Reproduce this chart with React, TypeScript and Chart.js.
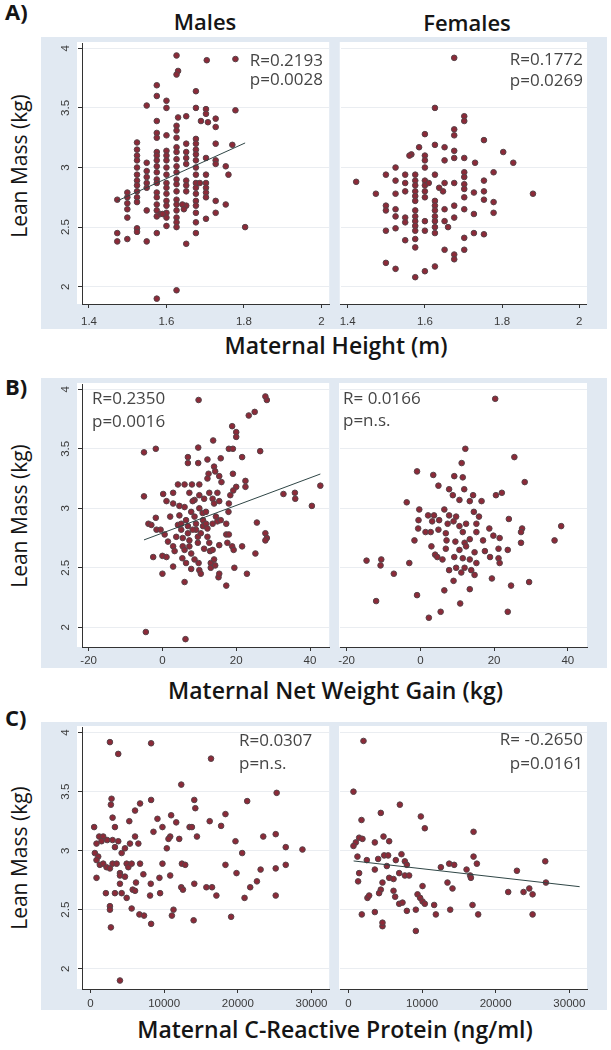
import React, { useEffect, useRef } from "react";
import { Chart, registerables } from "chart.js";

Chart.register(...registerables);

type Pt = [number, number];

// ---------- A) Maternal height (m) vs lean mass (kg) ----------
const malesHeight: Pt[] = [
  [1.473, 2.73], [1.473, 2.45], [1.473, 2.38],
  [1.499, 2.79], [1.499, 2.75], [1.499, 2.7], [1.499, 2.65], [1.499, 2.58], [1.499, 2.4],
  [1.524, 3.21], [1.524, 3.15], [1.524, 3.1], [1.524, 3.06], [1.524, 3.0], [1.524, 2.94], [1.524, 2.89],
  [1.524, 2.85], [1.524, 2.8], [1.524, 2.75], [1.524, 2.71], [1.524, 2.49], [1.524, 2.46],
  [1.549, 3.52], [1.549, 3.04], [1.549, 2.97], [1.549, 2.92], [1.549, 2.87], [1.549, 2.83], [1.549, 2.64], [1.549, 2.38],
  [1.575, 3.69], [1.575, 3.6], [1.575, 3.39], [1.575, 3.29], [1.575, 3.25], [1.575, 3.13], [1.575, 3.1],
  [1.575, 3.06], [1.575, 3.01], [1.575, 2.96], [1.575, 2.9], [1.575, 2.87], [1.575, 2.79], [1.575, 2.75],
  [1.575, 2.69], [1.575, 2.64], [1.575, 2.59], [1.575, 2.45], [1.575, 1.9],
  [1.6, 3.56], [1.6, 3.5], [1.6, 3.27], [1.6, 3.14], [1.6, 3.1], [1.6, 3.06], [1.6, 3.0], [1.6, 2.94],
  [1.6, 2.87], [1.6, 2.83], [1.6, 2.78], [1.6, 2.72], [1.6, 2.68], [1.6, 2.62], [1.6, 2.58], [1.6, 2.51],
  [1.585, 2.61], [1.59, 2.61],
  [1.626, 3.94], [1.63, 3.81], [1.626, 3.78], [1.63, 3.42], [1.626, 3.35], [1.626, 3.31], [1.626, 3.25],
  [1.626, 3.17], [1.626, 3.13], [1.626, 3.07], [1.626, 3.01], [1.626, 2.96], [1.626, 2.9], [1.626, 2.86],
  [1.626, 2.8], [1.626, 2.73], [1.626, 2.69], [1.626, 2.64], [1.626, 2.58], [1.626, 2.54], [1.626, 2.5], [1.626, 1.97],
  [1.651, 3.43], [1.651, 3.2], [1.651, 3.13], [1.651, 3.08], [1.651, 3.03], [1.651, 2.89], [1.651, 2.85],
  [1.651, 2.8], [1.651, 2.68], [1.651, 2.36], [1.641, 2.69], [1.645, 2.65],
  [1.676, 3.64], [1.676, 3.5], [1.676, 3.24], [1.676, 3.2], [1.676, 3.15], [1.676, 3.11], [1.676, 3.06],
  [1.676, 3.0], [1.676, 2.94], [1.676, 2.87], [1.676, 2.83], [1.676, 2.78], [1.676, 2.72], [1.676, 2.68],
  [1.676, 2.62], [1.676, 2.54], [1.676, 2.45], [1.689, 3.39], [1.686, 2.87],
  [1.704, 3.9], [1.702, 3.49], [1.702, 3.45], [1.707, 3.38], [1.702, 3.08], [1.702, 2.94], [1.702, 2.87],
  [1.702, 2.83], [1.702, 2.79], [1.702, 2.75], [1.702, 2.57],
  [1.727, 3.41], [1.727, 3.34], [1.727, 3.2], [1.727, 3.06], [1.727, 3.03], [1.727, 2.72], [1.727, 2.62],
  [1.753, 3.01], [1.76, 2.94], [1.753, 2.69],
  [1.778, 3.91], [1.778, 3.48], [1.77, 3.19],
  [1.803, 2.5],
];
const malesHeightFit: Pt[] = [[1.473, 2.72], [1.803, 3.206]];

const femalesHeight: Pt[] = [
  [1.422, 2.88], [1.473, 2.78],
  [1.499, 2.94], [1.499, 2.68], [1.499, 2.64], [1.499, 2.47], [1.499, 2.2],
  [1.524, 3.0], [1.524, 2.89], [1.524, 2.78], [1.524, 2.65], [1.524, 2.59], [1.524, 2.49], [1.524, 2.15],
  [1.549, 2.94], [1.549, 2.87], [1.549, 2.8], [1.549, 2.58], [1.549, 2.54], [1.549, 2.39],
  [1.585, 3.17], [1.565, 3.11], [1.56, 3.1], [1.575, 2.94], [1.575, 2.89], [1.575, 2.85], [1.575, 2.8],
  [1.575, 2.76], [1.575, 2.72], [1.575, 2.64], [1.575, 2.59], [1.575, 2.55], [1.575, 2.51], [1.575, 2.47],
  [1.575, 2.4], [1.575, 2.33], [1.575, 2.08],
  [1.6, 3.28], [1.6, 3.1], [1.6, 3.06], [1.6, 3.0], [1.6, 2.89], [1.6, 2.85], [1.6, 2.8], [1.6, 2.75],
  [1.6, 2.55], [1.6, 2.47], [1.6, 2.13], [1.61, 2.87],
  [1.626, 3.5], [1.626, 3.19], [1.626, 2.94], [1.626, 2.72], [1.626, 2.68], [1.626, 2.64], [1.626, 2.59],
  [1.626, 2.55], [1.626, 2.5], [1.626, 2.45], [1.626, 2.17], [1.637, 2.83], [1.647, 2.8],
  [1.651, 3.17], [1.651, 3.06], [1.651, 2.87], [1.651, 2.65], [1.651, 2.55], [1.651, 2.31], [1.66, 2.5],
  [1.676, 3.92], [1.676, 3.32], [1.676, 3.27], [1.676, 3.14], [1.676, 3.08], [1.676, 2.87], [1.676, 2.68],
  [1.676, 2.58], [1.676, 2.27], [1.676, 2.23],
  [1.702, 3.43], [1.702, 3.39], [1.702, 3.08], [1.702, 2.96], [1.702, 2.92], [1.702, 2.86], [1.702, 2.82],
  [1.702, 2.75], [1.702, 2.65], [1.702, 2.41], [1.702, 2.31], [1.73, 3.04],
  [1.727, 2.79], [1.727, 2.61], [1.727, 2.45],
  [1.753, 3.23], [1.753, 2.89], [1.753, 2.8], [1.753, 2.73], [1.753, 2.44],
  [1.778, 2.96], [1.778, 2.71], [1.778, 2.62],
  [1.803, 3.13], [1.829, 3.04], [1.88, 2.78],
];

// ---------- B) Maternal net weight gain (kg) vs lean mass (kg) ----------
const malesGain: Pt[] = [
  [-5, 3.47], [-1.8, 3.5], [-5, 3.1], [-4.5, 1.96], [6.25, 1.9], [9.8, 3.91], [28.3, 3.91], [27.9, 3.94],
  [25, 3.81], [23.4, 3.78], [18.9, 3.69], [20, 3.64], [20, 3.6], [13.75, 3.57], [9.7, 3.51], [18, 3.5],
  [19.1, 3.5], [21.6, 3.43], [26.5, 3.48], [6.9, 3.43], [6.9, 3.38], [9.7, 3.38], [12.2, 3.41], [15.8, 3.42],
  [14, 3.35], [12.5, 3.29], [14.3, 3.31], [12.2, 3.25], [15.4, 3.27], [16, 3.22], [19.1, 3.29], [20, 3.18],
  [22.5, 3.23], [22.5, 3.18], [4.2, 3.2], [6, 3.2], [8, 3.2], [10, 3.2], [0.2, 3.12], [1.1, 3.06], [2.9, 3.13],
  [2.9, 3.04], [4.6, 3.02], [6, 3.01], [7.3, 3.13], [8.7, 3.07], [10, 3.11], [11.3, 3.08], [12.7, 3.13],
  [13.6, 3.08], [14.9, 3.13], [14, 3.04], [15.4, 3.06], [18, 3.04], [18.4, 3.11], [17.9, 2.97], [19.2, 3.15],
  [32.8, 3.12], [35.9, 3.13], [36, 3.08], [-3.8, 2.87], [-3, 2.86], [-1.8, 2.92], [-1.6, 2.82], [-0.5, 2.82],
  [0.6, 2.78], [1.5, 2.72], [-2.5, 2.59], [0, 2.6], [1.1, 2.59], [0, 2.45], [2.9, 2.68], [3.3, 2.64],
  [2.9, 2.51], [4.2, 2.86], [5.1, 2.87], [5.1, 2.82], [5.5, 2.75], [5.5, 2.68], [6, 2.65], [5.4, 2.58],
  [6, 2.38], [6.4, 2.9], [6.9, 2.85], [6.9, 2.79], [7.3, 2.73], [7.3, 2.68], [7.8, 2.62], [7.8, 2.49],
  [8.7, 2.93], [9.1, 2.87], [9.1, 2.82], [9.6, 2.76], [9.6, 2.71], [9.8, 2.54], [10, 2.48], [10.4, 2.45],
  [10.9, 2.96], [11, 2.9], [11, 2.85], [11.8, 2.87], [12.2, 2.83], [12.7, 2.71], [12.9, 2.64], [13.1, 2.54],
  [13.1, 2.5], [13.6, 2.65], [14, 2.57], [14.3, 2.52], [14.9, 2.89], [15.2, 2.42], [15.4, 2.69], [15.4, 2.45],
  [15.8, 2.9], [17.3, 2.87], [17.3, 2.78], [18, 2.78], [17.6, 2.71], [18.9, 2.68], [19.3, 2.65], [17.3, 2.35],
  [19.5, 2.5], [21.6, 2.68], [22.9, 2.45], [25.2, 2.62], [25.6, 2.88], [27.9, 2.79], [28.3, 2.75], [27.9, 2.73],
  [42.8, 3.19], [40.5, 3.02], [4.6, 2.94], [7.8, 2.97], [10, 3.0], [11.8, 2.97], [8.2, 2.82], [10.4, 2.79],
  [12.2, 2.76], [11.3, 2.66], [8.7, 2.57], [6.4, 2.54], [3.75, 2.76], [2.1, 2.93], [13.6, 2.87], [14.5, 2.93],
  [8.2, 3.06],
];
const malesGainFit: Pt[] = [[-5, 2.734], [42.8, 3.288]];

const femalesGain: Pt[] = [
  [20.3, 3.92], [12.2, 3.5], [25.5, 3.43], [11.2, 3.38], [-0.9, 3.31], [3.5, 3.28], [9.2, 3.27], [11.5, 3.26],
  [28.3, 3.22], [4.9, 3.19], [7.8, 3.16], [11.9, 3.16], [22.1, 3.13], [20.5, 3.11], [8.8, 3.11], [14.3, 3.11],
  [10.6, 3.07], [13.4, 3.06], [16.6, 3.06], [-3.7, 3.05], [-0.3, 2.99], [2.1, 2.94], [3.7, 2.94], [6.5, 2.99],
  [7.8, 2.94], [9.7, 2.93], [14.5, 2.97], [15.9, 2.93], [-0.5, 2.9], [3.2, 2.89], [5.1, 2.9], [7.4, 2.87],
  [9.0, 2.89], [10.6, 2.85], [12.4, 2.87], [15.2, 2.87], [24.0, 2.91], [-0.6, 2.83], [1.4, 2.8], [2.8, 2.8],
  [4.9, 2.82], [6.9, 2.79], [11.5, 2.8], [15.2, 2.8], [18.7, 2.83], [27.6, 2.83], [27.3, 2.8], [38.2, 2.85],
  [36.4, 2.73], [-1.6, 2.73], [7.1, 2.73], [9.5, 2.72], [12.0, 2.71], [13.4, 2.74], [17.0, 2.73], [19.8, 2.77],
  [21.5, 2.75], [27.3, 2.71], [3.0, 2.68], [6.9, 2.66], [10.6, 2.65], [12.4, 2.68], [14.7, 2.63], [17.5, 2.64],
  [23.7, 2.65], [21.2, 2.66], [4.0, 2.61], [4.6, 2.59], [6.0, 2.57], [9.2, 2.59], [11.5, 2.58], [13.4, 2.57],
  [15.2, 2.54], [21.2, 2.58], [21.5, 2.54], [18.9, 2.59], [-3.0, 2.54], [-14.6, 2.56], [-10.6, 2.57],
  [-10.8, 2.52], [-7.2, 2.45], [7.8, 2.48], [9.7, 2.5], [12.0, 2.5], [13.8, 2.48], [14.7, 2.44], [11.1, 2.46],
  [9.0, 2.39], [13.4, 2.32], [19.4, 2.41], [6.5, 2.31], [24.6, 2.35], [29.5, 2.38], [-0.9, 2.27], [-12.0, 2.22],
  [10.8, 2.2], [23.7, 2.13], [5.5, 2.13], [2.3, 2.08],
];

// ---------- C) Maternal C-reactive protein (ng/ml) vs lean mass (kg) ----------
const malesCrp: Pt[] = [
  [2640, 3.92], [8230, 3.91], [3770, 3.82], [16360, 3.78], [12320, 3.56], [25270, 3.49], [2860, 3.44],
  [2770, 3.39], [8230, 3.43], [14090, 3.43], [14230, 3.36], [21270, 3.42], [6050, 3.34], [6730, 3.4],
  [3000, 3.28], [9090, 3.27], [10950, 3.3], [11640, 3.24], [18320, 3.31], [500, 3.2], [3320, 3.2], [5270, 3.25],
  [9770, 3.2], [13450, 3.2], [13770, 3.2], [16180, 3.25], [17730, 3.21], [8550, 3.16], [14450, 3.12],
  [10820, 3.12], [23450, 3.12], [25140, 3.14], [1180, 3.12], [1730, 3.12], [2270, 3.09], [1500, 3.08],
  [820, 3.06], [3000, 3.09], [3770, 3.08], [6050, 3.12], [10590, 3.1], [12050, 3.1], [19680, 3.08],
  [26500, 3.03], [28770, 3.01], [3320, 3.03], [4680, 3.02], [5360, 3.06], [6500, 3.06], [10360, 3.02],
  [20590, 2.98], [590, 2.98], [1050, 2.95], [4230, 2.98], [820, 2.92], [1270, 2.88], [1730, 2.89], [2180, 2.86],
  [2640, 2.85], [3000, 2.89], [3550, 2.89], [4000, 2.81], [4910, 2.89], [5140, 2.86], [5590, 2.89], [6730, 2.89],
  [9770, 2.89], [12410, 2.89], [12860, 2.88], [18320, 2.88], [26500, 2.88], [25140, 2.85], [23090, 2.84],
  [820, 2.77], [4000, 2.79], [4680, 2.78], [7180, 2.8], [8180, 2.72], [9360, 2.77], [10820, 2.79], [19820, 2.81],
  [4000, 2.72], [6180, 2.73], [14090, 2.72], [15730, 2.69], [16500, 2.69], [22590, 2.74], [21680, 2.69],
  [2090, 2.64], [3320, 2.64], [4230, 2.64], [4910, 2.6], [5730, 2.67], [6050, 2.66], [8090, 2.62], [9450, 2.64],
  [12320, 2.69], [12550, 2.67], [17090, 2.62], [25140, 2.62], [20910, 2.6], [2640, 2.53], [2640, 2.5],
  [5590, 2.51], [6640, 2.46], [7270, 2.45], [11270, 2.5], [11050, 2.45], [19090, 2.44], [8230, 2.38],
  [14000, 2.41], [2770, 2.35], [4000, 1.9],
];

const femalesCrp: Pt[] = [
  [2040, 3.93], [680, 3.5], [6980, 3.39], [4390, 3.32], [9830, 3.29], [10370, 3.19], [1770, 3.26], [16990, 3.16],
  [4760, 3.12], [5530, 3.08], [3580, 3.07], [1450, 3.11], [1900, 3.1], [1000, 3.07], [680, 3.04], [1220, 2.95],
  [2490, 2.92], [4030, 2.93], [4850, 2.96], [5390, 2.96], [6430, 2.92], [7200, 2.97], [7660, 2.91], [7930, 2.88],
  [5210, 2.87], [3580, 2.84], [6890, 2.81], [7660, 2.79], [8240, 2.79], [5530, 2.77], [1450, 2.81], [1310, 2.74],
  [4620, 2.73], [4390, 2.67], [4160, 2.64], [6120, 2.66], [6340, 2.61], [6890, 2.55], [7340, 2.56], [7930, 2.49],
  [2580, 2.6], [2810, 2.62], [3580, 2.48], [9150, 2.5], [9380, 2.63], [9740, 2.6], [10060, 2.57], [10370, 2.55],
  [10060, 2.7], [11640, 2.54], [11870, 2.46], [12550, 2.86], [13680, 2.89], [14360, 2.88], [13450, 2.73],
  [14130, 2.68], [13820, 2.5], [16040, 2.84], [16530, 2.79], [16630, 2.77], [16990, 2.95], [17440, 2.89],
  [16850, 2.54], [17620, 2.46], [21700, 2.65], [22880, 2.83], [23780, 2.65], [24560, 2.68], [25010, 2.63],
  [25010, 2.46], [26730, 2.91], [26820, 2.73], [1810, 2.46], [4620, 2.36], [4620, 2.39], [9150, 2.32], [6120, 2.76],
];
const femalesCrpFit: Pt[] = [[700, 2.913], [31400, 2.695]];

// ---------- ticks ----------
const leanMassTicks = [2, 2.5, 3, 3.5, 4];
const heightTicks = [1.4, 1.6, 1.8, 2];
const gainTicks = [-20, 0, 20, 40];
const crpTicks = [0, 10000, 20000, 30000];

// ---------- texts ----------
const panelLetters = ["A)", "B)", "C)"];
const sexTitles = ["Males", "Females"];
const yTitle = "Lean Mass (kg)";
const xTitles = ["Maternal Height (m)", "Maternal Net Weight Gain (kg)", "Maternal C-Reactive Protein (ng/ml)"];
const statsA = [["R=0.2193", "p=0.0028"], ["R=0.1772", "p=0.0269"]];
const statsB = [["R=0.2350", "p=0.0016"], ["R= 0.0166", "p=n.s."]];
const statsC = [["R=0.0307", "p=n.s."], ["R= -0.2650", "p=0.0161"]];

// ---------- styles ----------
const BLUE = "#e1e9f2";
const DOT_FILL = "#8c2a38";
const DOT_EDGE = "#574349";
const FIT_COLOR = "#2f4646";
const GRID = "#eaedf1";
const AXIS = "#333333";
const TICK_TEXT = "#3a3a3a";
const TEXT_FONT = '"Open Sans", "Noto Sans", sans-serif';
const TICK_FONT = "Liberation Sans";

const plotBgPlugin = {
  id: "plotBg",
  beforeDraw(chart: any, _a: any, opts: any) {
    const a = chart.chartArea;
    const ctx = chart.ctx;
    ctx.save();
    ctx.fillStyle = "#ffffff";
    ctx.fillRect(a.left - opts.extL, a.top - opts.extT, a.right - a.left + opts.extL, a.bottom - a.top + opts.extT);
    ctx.restore();
  },
};

const yLabelPlugin = {
  id: "yLabels",
  afterDraw(chart: any, _a: any, opts: any) {
    if (!opts.show) return;
    const ys = chart.scales.y;
    const ctx = chart.ctx;
    ctx.save();
    ctx.fillStyle = TICK_TEXT;
    ctx.font = `11.5px "${TICK_FONT}"`;
    ctx.textAlign = "center";
    ctx.textBaseline = "middle";
    ys.ticks.forEach((t: any) => {
      const py = ys.getPixelForValue(t.value);
      ctx.save();
      ctx.translate(chart.chartArea.left - 16, py);
      ctx.rotate(-Math.PI / 2);
      ctx.fillText(String(t.value), 0, 0);
      ctx.restore();
    });
    ctx.restore();
  },
};

type SubProps = {
  left: number; width: number; height: number;
  padTop: number; padRight: number; yAxisW: number; xAxisH: number; tickPad: number;
  showY: boolean; extL: number;
  points: Pt[]; fit: Pt[] | null;
  xMin: number; xMax: number; xTicks: number[]; yMin: number; yMax: number;
};

function Scatter(p: SubProps) {
  const ref = useRef<HTMLCanvasElement>(null);
  useEffect(() => {
    const datasets: any[] = [];
    if (p.fit) {
      datasets.push({
        data: p.fit.map(([x, y]) => ({ x, y })),
        showLine: true, borderColor: FIT_COLOR, borderWidth: 1, pointRadius: 0, pointHoverRadius: 0, fill: false,
      });
    }
    datasets.push({
      data: p.points.map(([x, y]) => ({ x, y })),
      showLine: false, pointRadius: 2.8, pointHoverRadius: 2.8,
      backgroundColor: DOT_FILL, borderColor: DOT_EDGE, borderWidth: 1,
    });
    const chart = new Chart(ref.current as HTMLCanvasElement, {
      type: "scatter",
      data: { datasets },
      options: {
        animation: false, responsive: false, maintainAspectRatio: false, devicePixelRatio: 1, events: [],
        layout: { padding: { top: p.padTop, right: p.padRight, left: 0, bottom: 0 } },
        plugins: {
          legend: { display: false }, tooltip: { enabled: false },
          plotBg: { extL: p.extL, extT: 1 },
          yLabels: { show: p.showY },
        } as any,
        scales: {
          x: {
            type: "linear", min: p.xMin, max: p.xMax,
            afterBuildTicks: (s: any) => { s.ticks = p.xTicks.map((v) => ({ value: v })); },
            afterFit: (s: any) => { s.height = p.xAxisH; },
            grid: { drawOnChartArea: false, drawTicks: true, tickLength: 4, tickColor: AXIS },
            border: { display: true, color: AXIS, width: 1 },
            ticks: {
              color: TICK_TEXT, font: { family: TICK_FONT, size: 11.5 }, padding: p.tickPad,
              maxRotation: 0, minRotation: 0, autoSkip: false, callback: (v: any) => String(v),
            },
          },
          y: {
            type: "linear", min: p.yMin, max: p.yMax,
            afterBuildTicks: (s: any) => { s.ticks = leanMassTicks.map((v) => ({ value: v })); },
            afterFit: (s: any) => { s.width = p.yAxisW; },
            grid: { color: GRID, drawTicks: p.showY, tickLength: 4, tickColor: AXIS },
            border: { display: p.showY, color: AXIS, width: 1 },
            ticks: { display: false },
          },
        },
      } as any,
      plugins: [plotBgPlugin, yLabelPlugin] as any,
    });
    return () => chart.destroy();
  }, []);
  return (
    <canvas ref={ref} width={p.width} height={p.height}
      style={{ position: "absolute", left: p.left, top: 0, width: p.width, height: p.height }} />
  );
}

type TxtProps = { x: number; baseline: number; size: number; weight?: number; color?: string; align?: string; children: any };
function Txt({ x, baseline, size, weight = 400, color = "#151515", align = "left", children }: TxtProps) {
  const style: any = {
    position: "absolute", top: baseline - 0.888 * size, fontSize: size, lineHeight: `${size}px`,
    fontWeight: weight, color, whiteSpace: "nowrap", fontFamily: TEXT_FONT,
  };
  if (align === "left") style.left = x;
  else if (align === "right") style.right = 611 - x;
  else { style.left = x; style.transform = "translateX(-50%)"; }
  return <div style={style}>{children}</div>;
}

function YTitle({ cy }: { cy: number }) {
  return (
    <div style={{
      position: "absolute", left: 18.5, top: cy, fontSize: 21, lineHeight: "21px", fontWeight: 500,
      color: "#151515", whiteSpace: "nowrap", fontFamily: TEXT_FONT, transform: "translate(-50%,-50%) rotate(-90deg)",
    }}>{yTitle}</div>
  );
}

const rows = [
  { top: 37, bottom: 329, plotTop: 43, plotBottom: 304, tickPad: 6.5, yMin: 1.855, yMax: 4.0445,
    xMin: 1.382, xMax: 2.02, xTicks: heightTicks, male: malesHeight, female: femalesHeight,
    maleFit: malesHeightFit, femaleFit: null as Pt[] | null, titleY: 166 },
  { top: 378, bottom: 668, plotTop: 384, plotBottom: 647, tickPad: 3, yMin: 1.834, yMax: 4.0445,
    xMin: -21.8, xMax: 45.2, xTicks: gainTicks, male: malesGain, female: femalesGain,
    maleFit: malesGainFit, femaleFit: null as Pt[] | null, titleY: 516 },
  { top: 722, bottom: 1010, plotTop: 727, plotBottom: 989, tickPad: 3.5, yMin: 1.828, yMax: 4.048,
    xMin: -1150, xMax: 32400, xTicks: crpTicks, male: malesCrp, female: femalesCrp,
    maleFit: null as Pt[] | null, femaleFit: femalesCrpFit, titleY: 858 },
];

export default function App() {
  return (
    <div style={{ position: "absolute", left: 0, top: 0, width: 611, height: 1050, background: "#fff", overflow: "hidden" }}>
      {rows.map((r, i) => (
        <div key={i} style={{ position: "absolute", left: 41, top: r.top, width: 566, height: r.bottom - r.top, background: BLUE }}>
          <Scatter left={0} width={292} height={r.bottom - r.top} padTop={r.plotTop - r.top} padRight={3}
            yAxisW={41} xAxisH={r.bottom - r.plotBottom} tickPad={r.tickPad} showY={true} extL={5}
            points={r.male} fit={r.maleFit} xMin={r.xMin} xMax={r.xMax} xTicks={r.xTicks} yMin={r.yMin} yMax={r.yMax} />
          <Scatter left={292} width={274} height={r.bottom - r.top} padTop={r.plotTop - r.top} padRight={20}
            yAxisW={7} xAxisH={r.bottom - r.plotBottom} tickPad={r.tickPad} showY={false} extL={1}
            points={r.female} fit={r.femaleFit} xMin={r.xMin} xMax={r.xMax} xTicks={r.xTicks} yMin={r.yMin} yMax={r.yMax} />
        </div>
      ))}

      <Txt x={5} baseline={19.5} size={22} weight={700}>{panelLetters[0]}</Txt>
      <Txt x={5} baseline={395} size={22} weight={700}>{panelLetters[1]}</Txt>
      <Txt x={5} baseline={725.5} size={22} weight={700}>{panelLetters[2]}</Txt>

      <Txt x={205} baseline={30} size={22} weight={600} align="center">{sexTitles[0]}</Txt>
      <Txt x={467} baseline={31} size={22} weight={600} align="center">{sexTitles[1]}</Txt>

      {rows.map((r, i) => <YTitle key={i} cy={r.titleY} />)}

      <Txt x={336} baseline={354} size={23} weight={600} align="center">{xTitles[0]}</Txt>
      <Txt x={335.5} baseline={699} size={23} weight={600} align="center">{xTitles[1]}</Txt>
      <Txt x={335} baseline={1038} size={23} weight={600} align="center">{xTitles[2]}</Txt>

      <Txt x={323} baseline={66} size={17} color="#454545" align="right">{statsA[0][0]}</Txt>
      <Txt x={323} baseline={85.5} size={17} color="#454545" align="right">{statsA[0][1]}</Txt>
      <Txt x={583} baseline={65} size={17} color="#454545" align="right">{statsA[1][0]}</Txt>
      <Txt x={583} baseline={86} size={17} color="#454545" align="right">{statsA[1][1]}</Txt>

      <Txt x={92} baseline={404} size={17} color="#454545">{statsB[0][0]}</Txt>
      <Txt x={92} baseline={427} size={17} color="#454545">{statsB[0][1]}</Txt>
      <Txt x={343} baseline={404} size={17} color="#454545">{statsB[1][0]}</Txt>
      <Txt x={343} baseline={426} size={17} color="#454545">{statsB[1][1]}</Txt>

      <Txt x={239} baseline={746} size={17} color="#454545">{statsC[0][0]}</Txt>
      <Txt x={239} baseline={769} size={17} color="#454545">{statsC[0][1]}</Txt>
      <Txt x={583} baseline={745.5} size={17} color="#454545" align="right">{statsC[1][0]}</Txt>
      <Txt x={583} baseline={769} size={17} color="#454545" align="right">{statsC[1][1]}</Txt>
    </div>
  );
}
